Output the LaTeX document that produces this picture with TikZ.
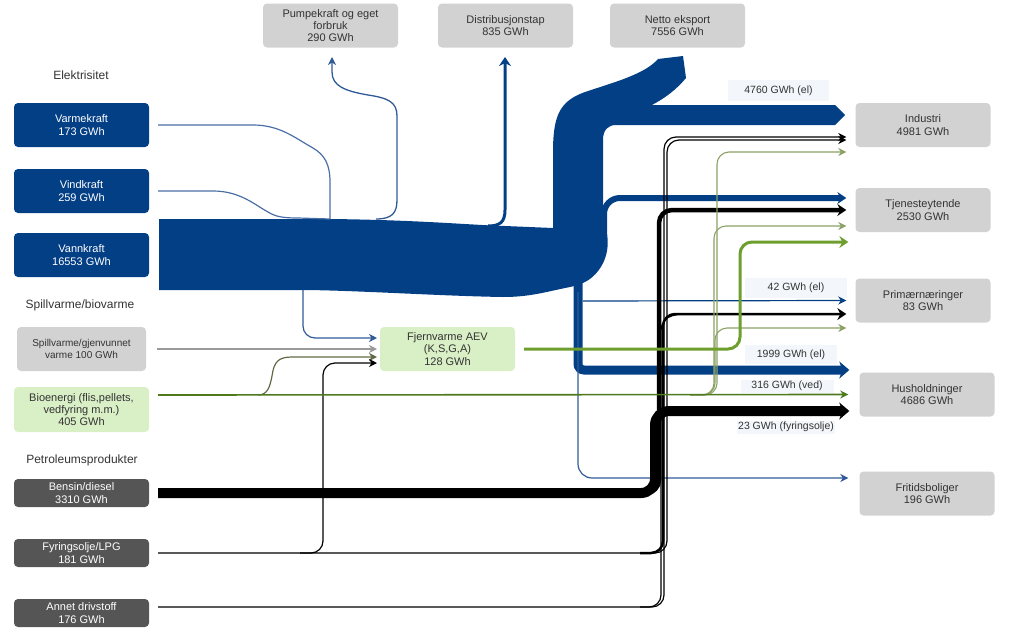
\documentclass[tikz,border=0pt]{standalone}
\usepackage{fontspec}
\setmainfont{Liberation Sans}
\usetikzlibrary{arrows.meta,calc}
\definecolor{elblue}{HTML}{033F85}
\definecolor{thinblue}{HTML}{2F5A96}
\definecolor{inblue}{HTML}{4A6EA5}
\definecolor{boxgray}{HTML}{D2D2D2}
\definecolor{petgray}{HTML}{555555}
\definecolor{lightgreen}{HTML}{D9EFC6}
\definecolor{fjgreen}{HTML}{6E9E2E}
\definecolor{biogreen}{HTML}{4E7A1E}
\definecolor{palegreen}{HTML}{8BA266}
\definecolor{oliveline}{HTML}{5F6B45}
\definecolor{spillgray}{HTML}{9A9A9A}
\definecolor{labbg}{HTML}{F3F6FA}
\definecolor{txt}{HTML}{333333}
\newcommand\myfs{\fontsize{11}{12.3}\selectfont}
\newcommand\mysmallfs{\fontsize{10}{11.5}\selectfont}
\newcommand\mylabfs{\fontsize{10.5}{11}\selectfont}
\newcommand\myheadfs{\fontsize{12}{13}\selectfont}
\begin{document}
\begin{tikzpicture}[x=1pt,y=-1pt,
 box/.style={rounded corners=4pt, minimum width=135pt, minimum height=44pt, align=center, inner sep=1pt, font=\myfs},
 bluebox/.style={box, fill=elblue, text=white},
 graybox/.style={box, fill=boxgray, text=txt},
 greenbox/.style={box, fill=lightgreen, text=txt},
 petbox/.style={box, fill=petgray, text=white, minimum height=28pt},
 head/.style={font=\myheadfs, text=txt, inner sep=1pt},
 lab/.style={fill=labbg, text=txt, font=\mylabfs, inner sep=0pt},
 tipS/.style={-{Stealth[length=8pt,width=8pt,inset=2.5pt]}},
 tipM/.style={-{Stealth[length=9pt,width=12pt,inset=3pt]}},
 tipL/.style={-{Stealth[length=10pt,width=17pt,inset=3pt]}},
 thinflow/.style={line width=1.2pt, rounded corners=12pt},
]
\useasboundingbox (0,0) rectangle (1024,637);

% ---------- nodes ----------
\node[head] (hel) at (81,75) {Elektrisitet};
\node[bluebox] (varme) at (81.5,125) {Varmekraft\\173 GWh};
\node[bluebox] (vind) at (81.5,191) {Vindkraft\\259 GWh};
\node[bluebox] (vann) at (81.5,255) {Vannkraft\\16553 GWh};
\node[head] (hsp) at (80,305) {Spillvarme/biovarme};
\node[graybox, minimum width=129pt, font=\mysmallfs] (spill) at (81.5,349) {Spillvarme/gjenvunnet\\varme 100 GWh};
\node[greenbox, minimum height=45pt] (bio) at (81.5,409.5) {Bioenergi (flis,pellets,\\vedfyring m.m.)\\405 GWh};
\node[head] (hpet) at (82,460) {Petroleumsprodukter};
\node[petbox] (bens) at (81.5,493) {Bensin/diesel\\3310 GWh};
\node[petbox] (fyr) at (81.5,553) {Fyringsolje/LPG\\181 GWh};
\node[petbox] (ann) at (81.5,613) {Annet drivstoff\\176 GWh};

\node[graybox] (pump) at (330.5,25.5) {Pumpekraft og eget\\forbruk\\290 GWh};
\node[graybox] (dist) at (505.5,25.5) {Distribusjonstap\\835 GWh};
\node[graybox] (netto) at (677.5,25.5) {Netto eksport\\7556 GWh};

\node[graybox] (ind) at (923,125) {Industri\\4981 GWh};
\node[graybox] (tjen) at (923,210) {Tjenesteytende\\2530 GWh};
\node[graybox] (prim) at (923,300.5) {Primærnæringer\\83 GWh};
\node[graybox] (hush) at (927,394.5) {Husholdninger\\4686 GWh};
\node[graybox] (frit) at (927,493.5) {Fritidsboliger\\196 GWh};

\node[greenbox] (fjv) at (447.5,349) {Fjernvarme AEV\\(K,S,G,A)\\128 GWh};

\node[lab, minimum width=101pt, minimum height=21pt] (l1) at (778.5,90.5) {4760 GWh (el)};
\node[lab, minimum width=102pt, minimum height=20pt] (l2) at (796,288) {42 GWh (el)};
\node[lab, minimum width=92pt, minimum height=19pt] (l3) at (791,354.5) {1999 GWh (el)};
\node[lab, minimum width=93pt, minimum height=13pt] (l4) at (787,386) {316 GWh (ved)};
\node[lab, minimum width=98pt, minimum height=13pt] (l5) at (786,427) {23 GWh (fyringsolje)};

% ---------- coordinates ----------
\coordinate (vannout) at (159,219);
\coordinate (pumpin) at (332,57);
\coordinate (distin) at (505,57);
\coordinate (fjvA) at (377,338);
\coordinate (fjvB) at (377,349);
\coordinate (fjvC) at (377,357);
\coordinate (fjvD) at (377,363);

% ---------- main electricity band ----------
\fill[elblue] (vannout) -- (330,219) .. controls (420,220) and (470,225) .. (505,226) -- (553,228)
  -- (553,152) .. controls (553,115) and (560,101) .. (585,92)
  .. controls (615,82) and (645,74) .. (658,59) -- (683,56) -- (686,78)
  .. controls (676,90) and (665,98) .. (652,105) -- (835,105) -- (845,115) -- (835,125)
  -- (616,125) .. controls (608,125) and (603,130) .. (603,140) -- (603,205)
  .. controls (605,228) and (613,245) .. (602,265)
  .. controls (594,279) and (584,284) .. (570,287)
  .. controls (545,292) and (530,297) .. (503,297)
  .. controls (440,296) and (350,290) .. (300,290) -- (159,290) -- cycle;

% inputs to band
\draw[inblue, line width=1.2pt] ([xshift=9pt]varme.east) -- (253,125) .. controls (280,125) and (295,138) .. (313,148)
  .. controls (325,155) and (330,165) .. (330,182) -- (330,219);
\draw[inblue, line width=1.2pt] ([xshift=9pt]vind.east) -- (213,191) .. controls (240,191) and (255,205) .. (268,212)
  .. controls (276,217) and (284,218) .. (298,218) -- (330,219);

% outputs upward
\draw[thinblue, line width=1.3pt, tipS] (376,219) .. controls (392,219) and (397,213) .. (397,200) -- (397,116)
  .. controls (397,102) and (388,98) .. (368,95) .. controls (345,91) and (332,86) .. (332,72) -- (pumpin);
\draw[elblue, line width=3pt, tipM] (488,226) .. controls (500,226) and (505,222) .. (505,210) -- (distin);

% electricity to sectors
\draw[elblue, line width=6pt, rounded corners=16pt, tipM] (604,232) -- (604,198) -- ([xshift=-9pt,yshift=12pt]tjen.west);
\draw[elblue, line width=1.2pt, tipS] (583,301) -- ([xshift=-9pt]prim.west);
\draw[elblue, line width=9pt, rounded corners=6pt, tipL] (578,281) -- (578,370) -- ([xshift=-10pt,yshift=24.5pt]hush.west);
\draw[thinblue, line width=1.2pt, rounded corners=14pt, tipS] (578,292) -- (578,478) -- ([xshift=-11pt,yshift=15.5pt]frit.west);

% ---------- fjernvarme inputs ----------
\draw[thinblue, thinflow, tipS] (303,290) -- (303,338) -- (fjvA);
\draw[spillgray, line width=1.3pt, tipS] ([xshift=11pt]spill.east) -- (fjvB);
\draw[oliveline, line width=1.2pt, tipS] (258,395) .. controls (268,395) and (270,386) .. (272,376)
  .. controls (274,362) and (278,357) .. (292,357) -- (fjvC);
\draw[black, thinflow, tipS] (300,553) -- (323,553) -- (323,363) -- (fjvD);

% ---------- petroleum ----------
\draw[black, thinflow, tipS] ([xshift=9pt,yshift=6pt]ann.east) -- (664,607) -- (664,137) -- ([xshift=-9pt,yshift=-12pt]ind.west);
\draw[black, thinflow, tipS] ([xshift=9pt]fyr.east) -- (667,553) -- (667,140) -- ([xshift=-9pt,yshift=-15pt]ind.west);
\draw[black, thinflow] (640,607) -- (661,607) -- (661,318) -- (680,314);
\draw[black, line width=2.5pt, rounded corners=12pt, tipM] (640,553) -- (663,553) -- (663,314) -- ([xshift=-9pt,yshift=-13.5pt]prim.west);
\draw[black, line width=4.5pt, rounded corners=13pt, tipM] (630,493) -- (659,493) -- (659,210) -- ([xshift=-9pt]tjen.west);
\draw[black, line width=10pt, rounded corners=14pt, tipL] ([xshift=9pt]bens.east) -- (655,493) -- (655,411) -- ([xshift=-10pt,yshift=-16.5pt]hush.west);

% ---------- bio ----------
\draw[palegreen, line width=1.1pt, rounded corners=12pt, tipS] (690,395) -- (717,395) -- (717,152) -- ([xshift=-9pt,yshift=-27pt]ind.west);
\draw[palegreen, line width=1.1pt, rounded corners=12pt, tipS] (690,395) -- (714,395) -- (714,226) -- ([xshift=-9pt,yshift=-16pt]tjen.west);
\draw[palegreen, line width=1.1pt, rounded corners=12pt, tipS] (700,395) -- (715,395) -- (715,328) -- ([xshift=-9pt,yshift=-27.5pt]prim.west);
\draw[biogreen, line width=1.6pt, tipS] ([xshift=9pt,yshift=14.5pt]bio.east) -- ([xshift=-11pt]hush.west);

% ---------- fjernvarme out ----------
\draw[fjgreen, line width=3pt, rounded corners=12pt, tipM] ([xshift=9pt]fjv.east) -- (740,349) -- (740,242) -- ([xshift=-7pt,yshift=-32pt]tjen.west);
\end{tikzpicture}
\end{document}
